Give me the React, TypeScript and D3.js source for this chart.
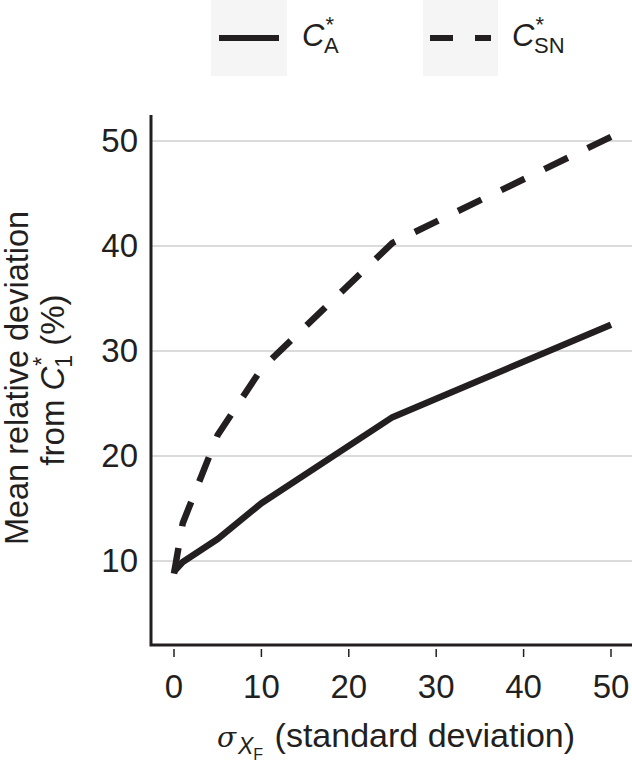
import React from 'react';
import * as d3 from 'd3';

// sigma of X_F (standard deviation)
const sigmaA = [0, 1, 5, 10, 25, 50];
const devA = [9.0, 9.9, 12.1, 15.5, 23.7, 32.5];

const sigmaSN = [0, 1, 5, 10, 25, 50];
const devSN = [8.8, 13.6, 22.0, 28.3, 40.3, 50.4];

const xTicks = [0, 10, 20, 30, 40, 50];
const yTicks = [10, 20, 30, 40, 50];

const W = 632;
const H = 765;
const ink = '#231f20';
const font = '"Liberation Sans", Arial, Helvetica, sans-serif';

const App = () => {
  const x = d3.scaleLinear().domain([0, 50]).range([174, 611]);
  const y = d3.scaleLinear().domain([10, 50]).range([561, 141]);

  const axisLeft = 151;
  const axisBottom = 645;
  const axisTop = 115;

  const line = d3.line<[number, number]>()
    .x(d => x(d[0]))
    .y(d => y(d[1]));

  const ptsA: [number, number][] = sigmaA.map((s, i) => [s, devA[i]]);
  const ptsSN: [number, number][] = sigmaSN.map((s, i) => [s, devSN[i]]);

  return (
    <svg width={W} height={H} style={{ position: 'absolute', left: 0, top: 0 }} fontFamily={font}>
      <rect width={W} height={H} fill="#fff" />

      {/* legend */}
      <rect x={211} y={0} width={76} height={76} fill="#f5f5f5" />
      <line x1={219} x2={279} y1={38} y2={38} stroke={ink} strokeWidth={6} />
      <text x={302} y={46} fontSize={31} fill={ink}>
        <tspan fontStyle="italic">C</tspan>
        <tspan fontSize={22} dx={1} dy={-14}>*</tspan>
        <tspan fontSize={22} dx={-10} dy={21}>A</tspan>
      </text>
      <rect x={423} y={0} width={75} height={76} fill="#f5f5f5" />
      <line x1={430} x2={491} y1={38} y2={38} stroke={ink} strokeWidth={6} strokeDasharray="23 22" />
      <text x={512} y={46} fontSize={31} fill={ink}>
        <tspan fontStyle="italic">C</tspan>
        <tspan fontSize={22} dx={1} dy={-14}>*</tspan>
        <tspan fontSize={22} dx={-10} dy={21}>SN</tspan>
      </text>

      {/* gridlines */}
      {yTicks.map(t => (
        <line key={t} x1={axisLeft} x2={W} y1={y(t)} y2={y(t)} stroke="#cfcfcf" strokeWidth={1.5} />
      ))}

      {/* axes */}
      <path d={`M${axisLeft},${axisTop}V${axisBottom}H${W}`} fill="none" stroke={ink} strokeWidth={3} />
      {xTicks.map(t => (
        <line key={t} x1={x(t)} x2={x(t)} y1={axisBottom + 4} y2={axisBottom + 12} stroke={ink} strokeWidth={1.5} />
      ))}

      {/* tick labels */}
      {yTicks.map(t => (
        <text key={t} x={138} y={y(t)} dy="0.34em" textAnchor="end" fontSize={33} fill={ink}>{t}</text>
      ))}
      {xTicks.map(t => (
        <text key={t} x={x(t)} y={698} textAnchor="middle" fontSize={33} fill={ink}>{t}</text>
      ))}

      {/* series */}
      <path d={line(ptsSN) || ''} fill="none" stroke={ink} strokeWidth={6.5} strokeDasharray="26 22" strokeLinejoin="round" />
      <path d={line(ptsA) || ''} fill="none" stroke={ink} strokeWidth={6.5} strokeLinejoin="round" />

      {/* axis titles */}
      <text x={396} y={747} textAnchor="middle" fontSize={34} fill={ink}>
        <tspan fontFamily='"DejaVu Serif", serif' fontStyle="italic" fontSize={28}>σ</tspan>
        <tspan fontStyle="italic" fontSize={23} dx={2} dy={7}>X</tspan>
        <tspan fontSize={16} dy={6}>F</tspan>
        <tspan dx={2} dy={-13}> (standard deviation)</tspan>
      </text>
      <g transform="translate(28,378) rotate(-90)">
        <text x={0} y={0} textAnchor="middle" fontSize={32.5} fill={ink}>Mean relative deviation</text>
      </g>
      <g transform="translate(64,380) rotate(-90)">
        <text x={0} y={0} textAnchor="middle" fontSize={33} fill={ink}>
          from <tspan fontStyle="italic">C</tspan>
          <tspan fontSize={23} dx={1} dy={-14}>*</tspan>
          <tspan fontSize={23} dx={-11} dy={22}>1</tspan>
          <tspan dy={-8}> (%)</tspan>
        </text>
      </g>
    </svg>
  );
};

export default App;
